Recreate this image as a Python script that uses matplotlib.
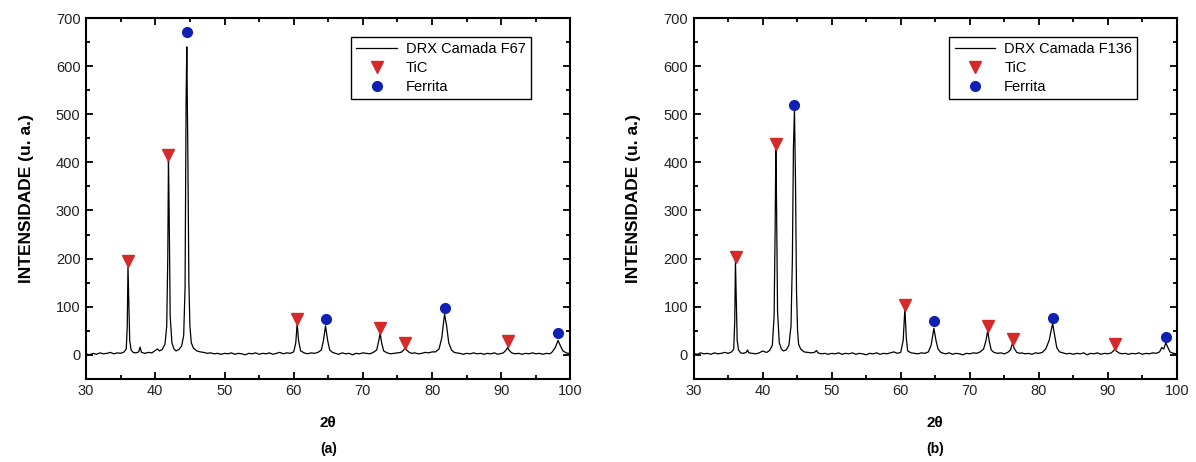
import matplotlib
matplotlib.use('Agg')
import matplotlib.pyplot as plt
from matplotlib.ticker import MultipleLocator
import numpy as np

plt.rcParams['font.family'] = ['Liberation Sans', 'DejaVu Sans']

# DRX pattern, layer F67 (2theta, intensity)
f67_2theta = [30.0, 30.5, 31.0, 31.5, 32.0, 32.5, 33.0, 33.5, 34.0, 34.5, 35.0, 35.5,
              35.8, 35.95, 36.05, 36.15, 36.3, 36.5, 36.8, 37.2, 37.6, 37.8, 38.0, 38.5,
              39.0, 39.5, 40.0, 40.3, 40.6, 41.0, 41.4, 41.65, 41.8, 41.9, 42.0, 42.15,
              42.4, 42.7, 43.0, 43.4, 43.8, 44.1, 44.3, 44.45, 44.55, 44.7, 44.85, 45.0,
              45.2, 45.5, 46.0, 46.5, 47.0, 47.5, 48.0, 48.5, 49.0, 49.5, 50.0, 50.5,
              51.0, 51.5, 52.0, 52.5, 53.0, 53.5, 54.0, 54.5, 55.0, 55.5, 56.0, 56.5,
              57.0, 57.5, 58.0, 58.5, 59.0, 59.5, 60.0, 60.3, 60.5, 60.7, 61.0, 61.5,
              62.0, 62.5, 63.0, 63.5, 64.0, 64.3, 64.6, 64.9, 65.2, 65.6, 66.0, 66.5,
              67.0, 67.5, 68.0, 68.5, 69.0, 69.5, 70.0, 70.5, 71.0, 71.5, 72.0, 72.3,
              72.5, 72.7, 73.0, 73.5, 74.0, 74.5, 75.0, 75.5, 75.9, 76.1, 76.3, 76.7,
              77.0, 77.5, 78.0, 78.5, 79.0, 79.5, 80.0, 80.5, 81.0, 81.4, 81.8, 82.1,
              82.4, 82.8, 83.2, 83.5, 84.0, 84.5, 85.0, 85.5, 86.0, 86.5, 87.0, 87.5,
              88.0, 88.5, 89.0, 89.5, 90.0, 90.3, 90.7, 90.9, 91.1, 91.5, 92.0, 92.5,
              93.0, 93.5, 94.0, 94.5, 95.0, 95.5, 96.0, 96.5, 97.0, 97.3, 97.8, 98.2,
              98.5, 98.9, 99.4, 100.0]
f67_int = [2, 0, 3, 1, 4, 2, 3, 5, 2, 4, 3, 6,
           12, 60, 185, 120, 30, 10, 5, 4, 6, 16, 5, 3,
           5, 4, 9, 12, 8, 11, 22, 60, 200, 405, 300, 80,
           25, 12, 8, 11, 18, 40, 140, 530, 640, 420, 150, 60,
           25, 14, 8, 6, 5, 3, 4, 2, 3, 1, 3, 2,
           4, 1, 3, 2, 0, 3, 2, 4, 1, 3, 2, 4,
           1, 3, 5, 2, 4, 3, 6, 25, 65, 30, 8, 4,
           2, 4, 3, 5, 10, 30, 60, 30, 10, 5, 3, 1,
           4, 2, 3, 0, 3, 2, 4, 3, 2, 5, 10, 30,
           45, 25, 8, 4, 2, 3, 4, 5, 10, 15, 10, 5,
           3, 4, 2, 3, 5, 4, 6, 6, 12, 35, 85, 60,
           25, 10, 5, 4, 3, 1, 3, 2, 4, 2, 3, 1,
           3, 2, 4, 1, 3, 4, 10, 15, 10, 4, 2, 3,
           1, 3, 2, 4, 2, 3, 1, 3, 2, 5, 15, 30,
           20, 8, 4, 2]

# DRX pattern, layer F136 (2theta, intensity)
f136_2theta = [30.0, 30.5, 31.0, 31.5, 32.0, 32.5, 33.0, 33.5, 34.0, 34.5, 35.0, 35.5,
               35.8, 35.95, 36.05, 36.15, 36.3, 36.5, 36.8, 37.2, 37.6, 37.8, 38.0, 38.5,
               39.0, 39.5, 40.0, 40.3, 40.6, 41.0, 41.4, 41.65, 41.8, 41.9, 42.0, 42.15,
               42.4, 42.7, 43.0, 43.4, 43.8, 44.1, 44.3, 44.45, 44.6, 44.75, 44.9, 45.05,
               45.2, 45.5, 46.0, 46.5, 47.0, 47.5, 47.8, 48.0, 48.5, 49.0, 49.5, 50.0,
               50.5, 51.0, 51.5, 52.0, 52.5, 53.0, 53.5, 54.0, 54.5, 55.0, 55.5, 56.0,
               56.5, 57.0, 57.5, 58.0, 58.5, 59.0, 59.5, 60.0, 60.35, 60.6, 60.8, 61.0,
               61.5, 62.0, 62.5, 63.0, 63.5, 64.0, 64.4, 64.8, 65.1, 65.4, 65.8, 66.2,
               66.5, 67.0, 67.5, 68.0, 68.5, 69.0, 69.5, 70.0, 70.5, 71.0, 71.5, 72.0,
               72.35, 72.6, 72.8, 73.1, 73.5, 74.0, 74.5, 75.0, 75.5, 75.9, 76.2, 76.4,
               76.8, 77.2, 77.5, 78.0, 78.5, 79.0, 79.5, 80.0, 80.5, 81.0, 81.5, 82.0,
               82.3, 82.6, 83.0, 83.5, 84.0, 84.5, 85.0, 85.5, 86.0, 86.5, 87.0, 87.5,
               88.0, 88.5, 89.0, 89.5, 90.0, 90.5, 90.8, 91.0, 91.2, 91.6, 92.0, 92.5,
               93.0, 93.5, 94.0, 94.5, 95.0, 95.5, 96.0, 96.5, 97.0, 97.5, 97.8, 98.1,
               98.4, 98.7, 99.0, 99.5, 100.0]
f136_int = [3, 1, 4, 2, 3, 1, 4, 2, 3, 5, 3, 6,
            12, 70, 195, 130, 30, 10, 4, 3, 5, 10, 4, 3,
            2, 4, 8, 6, 5, 9, 20, 80, 260, 430, 320, 90,
            25, 12, 8, 10, 20, 60, 200, 430, 510, 360, 130, 50,
            22, 12, 6, 5, 4, 5, 9, 4, 2, 3, 1, 3,
            2, 4, 1, 3, 2, 4, 1, 3, 2, 0, 3, 2,
            4, 1, 3, 2, 4, 6, 3, 5, 30, 97, 35, 8,
            4, 3, 2, 4, 3, 6, 20, 55, 30, 12, 5, 3,
            2, 4, 1, 3, 2, 0, 3, 2, 4, 3, 6, 12,
            30, 50, 30, 10, 5, 3, 4, 2, 5, 10, 25, 14,
            5, 3, 4, 2, 3, 1, 4, 3, 5, 12, 30, 65,
            40, 15, 6, 4, 2, 3, 1, 3, 2, 4, 0, 3,
            2, 4, 1, 3, 2, 4, 8, 12, 8, 4, 2, 3,
            1, 3, 2, 4, 1, 3, 2, 4, 3, 6, 15, 12,
            25, 15, 6, 3, 2]

# phase markers
tic_a_2theta = [36.1, 41.9, 60.5, 72.5, 76.1, 90.9]
tic_a_int = [195, 415, 75, 55, 25, 28]
fe_a_2theta = [44.6, 64.6, 81.8, 98.2]
fe_a_int = [670, 74, 98, 45]

tic_b_2theta = [36.1, 41.9, 60.6, 72.6, 76.2, 91.0]
tic_b_int = [203, 438, 103, 60, 33, 22]
fe_b_2theta = [44.6, 64.8, 82.0, 98.4]
fe_b_int = [520, 70, 77, 36]

panels = [
    (f67_2theta, f67_int, tic_a_2theta, tic_a_int, fe_a_2theta, fe_a_int, 'DRX Camada F67', '(a)'),
    (f136_2theta, f136_int, tic_b_2theta, tic_b_int, fe_b_2theta, fe_b_int, 'DRX Camada F136', '(b)'),
]

fig = plt.figure(figsize=(11.96, 4.62), dpi=100)
ax_a = fig.add_axes([0.072, 0.180, 0.405, 0.781])
ax_b = fig.add_axes([0.580, 0.180, 0.404, 0.781])

for ax, (xx, yy, tx, ty, fx, fy, name, tag) in zip([ax_a, ax_b], panels):
    ax.plot(xx, yy, color='black', lw=0.9, label=name)
    ax.plot(tx, ty, linestyle='none', marker='v', ms=8, color='#d42a2a', label='TiC')
    ax.plot(fx, fy, linestyle='none', marker='o', ms=7, color='#1020b0', label='Ferrita')

    ax.set_xlim(30, 100)
    ax.set_ylim(-50, 700)
    ax.set_yticks(np.arange(0, 701, 100))
    ax.xaxis.set_major_locator(MultipleLocator(10))
    ax.xaxis.set_minor_locator(MultipleLocator(5))
    ax.yaxis.set_minor_locator(MultipleLocator(50))
    ax.tick_params(which='both', direction='in', top=True, right=True,
                   labelsize=10.5, width=1.3, color='black', labelcolor='#222222')
    ax.tick_params(which='major', length=5, pad=4)
    ax.tick_params(which='minor', length=3)
    for sp in ax.spines.values():
        sp.set_linewidth(1.5)

    ax.set_xlabel('2θ', fontsize=11, fontweight='bold', labelpad=13)
    ax.set_ylabel('INTENSIDADE (u. a.)', fontsize=12.5, fontweight='bold', labelpad=16)

    leg = ax.legend(loc='upper right', bbox_to_anchor=(0.918, 0.948), fontsize=10.5,
                    frameon=True, fancybox=False, edgecolor='black', framealpha=1,
                    handlelength=2.8, handletextpad=0.6, borderpad=0.35, labelspacing=0.35,
                    borderaxespad=0)
    leg.get_frame().set_linewidth(1.0)

    # panel tag under the x label
    bb = ax.get_position()
    fig.text((bb.x0 + bb.x1) / 2, 0.012, tag, ha='center', va='bottom',
             fontsize=10, fontweight='bold')

fig.savefig('out.png', dpi=100)
